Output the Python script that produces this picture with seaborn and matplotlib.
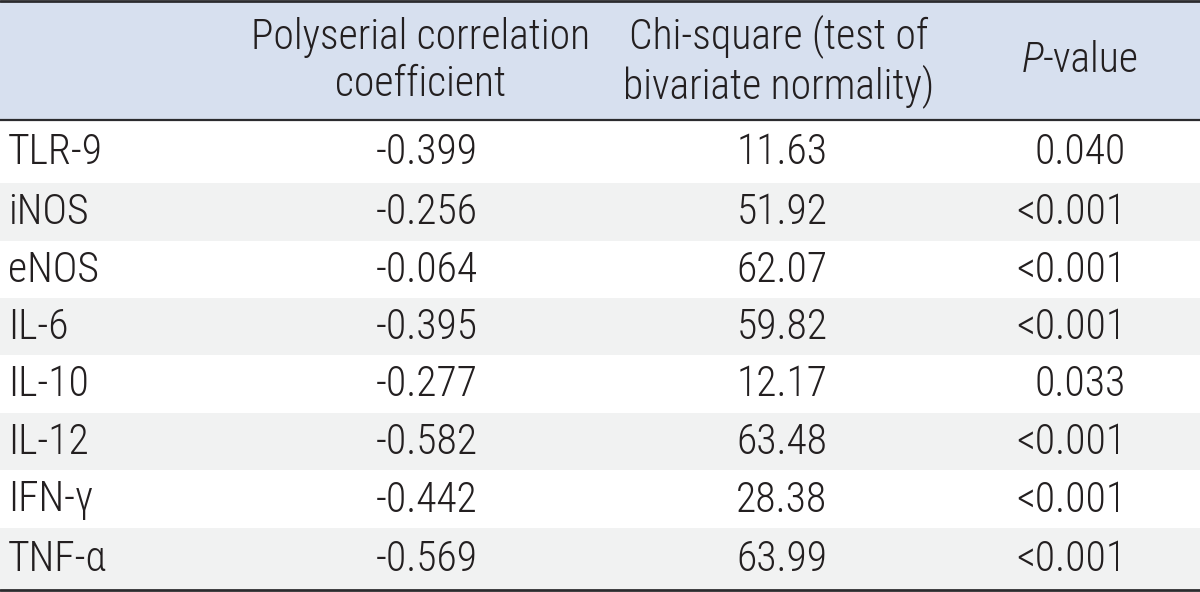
import matplotlib
matplotlib.use("Agg")
import matplotlib.pyplot as plt
import seaborn as sns
from matplotlib import font_manager as fm

# ---- data ----
markers = ["TLR-9", "iNOS", "eNOS", "IL-6", "IL-10", "IL-12", "IFN-γ", "TNF-α"]
polyserial = ["-0.399", "-0.256", "-0.064", "-0.395", "-0.277", "-0.582", "-0.442", "-0.569"]
chi_square = ["11.63", "51.92", "62.07", "59.82", "12.17", "63.48", "28.38", "63.99"]
p_values = ["0.040", "<0.001", "<0.001", "<0.001", "0.033", "<0.001", "<0.001", "<0.001"]
header_1 = "Polyserial correlation\ncoefficient"
header_2 = "Chi-square (test of\nbivariate normality)"
header_3_italic = "P"
header_3_rest = "-value"

# ---- style ----
sns.set_theme(style="white")
available = {f.name for f in fm.fontManager.ttflist}
prefs = ["Roboto Condensed", "Archivo Narrow", "PT Sans Narrow", "Fira Sans Condensed",
         "Sofia Sans Semi Condensed", "Liberation Sans"]
FONT = next(p for p in prefs if p in available)
plt.rcParams["font.family"] = [FONT, "DejaVu Sans"]
WEIGHT = 300 if FONT == "Roboto Condensed" else "normal"

TXT = "#231f20"
HEAD_BG = "#d7e0ef"
STRIPE = "#f1f2f2"
LINE = "#2b2b2e"
FS = 30

fig = plt.figure(figsize=(12, 5.92), dpi=100)
ax = fig.add_axes([0, 0, 1, 1])
ax.set_xlim(0, 1200)
ax.set_ylim(592, 0)
ax.axis("off")

kw = dict(fontsize=FS, color=TXT, fontweight=WEIGHT)

# header band
header_bot = 120
ax.axhspan(1.5, header_bot, color=HEAD_BG, lw=0)

# row bands
row_edges = [120, 183, 241, 298, 355, 413, 470, 528, 589]
for i in range(len(markers)):
    y0, y1 = row_edges[i], row_edges[i + 1]
    if i % 2 == 1:
        ax.axhspan(y0, y1, color=STRIPE, lw=0)
    yc = (y0 + y1) / 2 + 1
    ax.text(8, yc, markers[i], ha="left", va="center", **kw)
    ax.text(427, yc, polyserial[i], ha="center", va="center", **kw)
    ax.text(782, yc, chi_square[i], ha="center", va="center", **kw)
    ax.text(1126, yc, p_values[i], ha="right", va="center", **kw)

# header texts
hy = 61
ax.text(421, hy, header_1, ha="center", va="center", linespacing=1.2, **kw)
ax.text(779, hy, header_2, ha="center", va="center", linespacing=1.2, **kw)
t_rest = ax.text(1139, hy, header_3_rest, ha="right", va="center", **kw)
fig.canvas.draw()
bb = t_rest.get_window_extent()
x_left = ax.transData.inverted().transform((bb.x0, bb.y0))[0]
ax.text(x_left, hy, header_3_italic, ha="right", va="center", fontstyle="italic", **kw)

# rules
ax.axhline(1.2, color=LINE, lw=2.0)
ax.axhline(header_bot, color=LINE, lw=1.6)
ax.axhline(590, color=LINE, lw=2.0)

fig.savefig("out.png", dpi=100)
